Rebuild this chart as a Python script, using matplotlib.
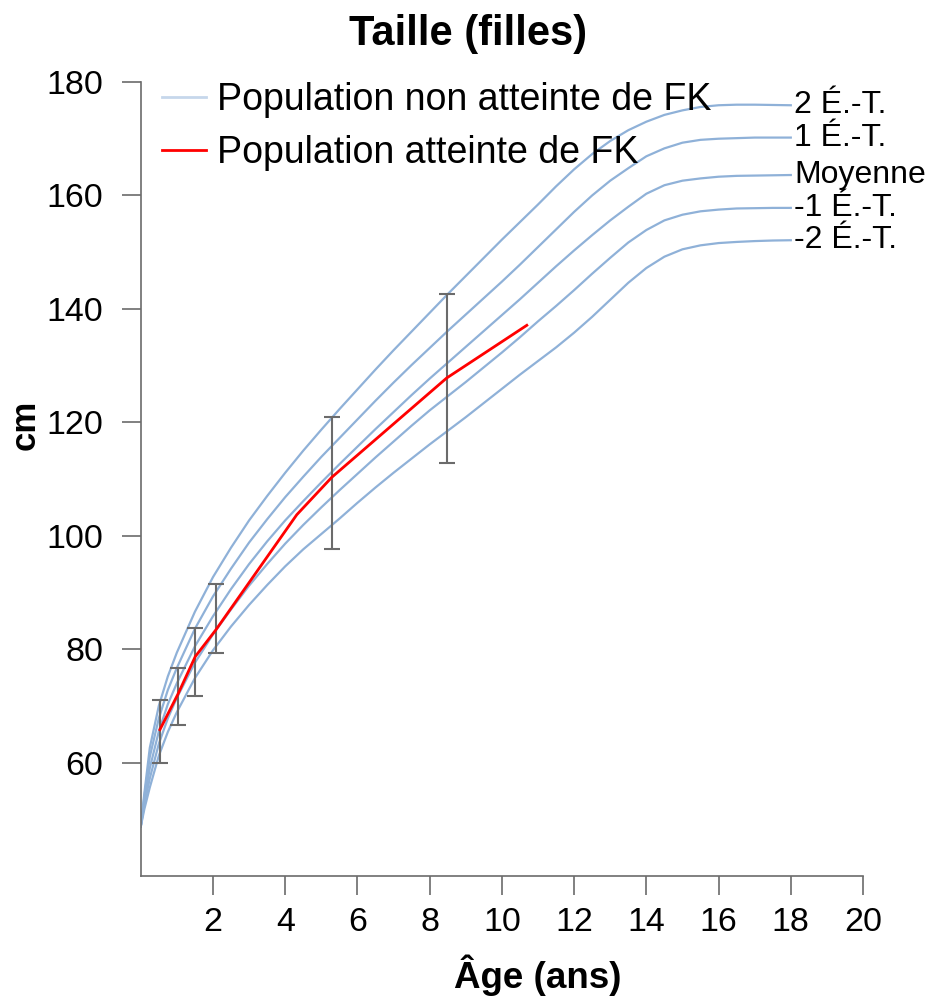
import matplotlib
matplotlib.use("Agg")
import matplotlib.pyplot as plt
from matplotlib.lines import Line2D

plt.rcParams["font.family"] = ["Liberation Sans", "DejaVu Sans"]

# reference curves (cm) by age (years)
AGES = [0, 0.1, 0.25, 0.5, 0.75, 1, 1.5, 2, 2.5, 3, 3.5, 4, 4.5, 5, 5.5, 6,
        6.5, 7, 7.5, 8, 8.5, 9, 9.5, 10, 10.5, 11, 11.5, 12, 12.5, 13, 13.5,
        14, 14.5, 15, 15.5, 16, 16.5, 17, 17.5, 18]
SD_PLUS2 = [48.7, 54.6, 62.6, 70.0, 75.2, 79.4, 86.6, 92.7, 97.9, 102.7, 107.0,
            111.1, 115.0, 118.7, 122.3, 125.8, 129.3, 132.7, 136.0, 139.3, 142.6,
            145.8, 149.0, 152.2, 155.3, 158.4, 161.6, 164.6, 167.3, 169.6, 171.5,
            173.0, 174.2, 175.0, 175.6, 175.9, 176.0, 176.0, 175.95, 175.9]
SD_PLUS1 = [48.7, 54.0, 61.0, 67.8, 72.8, 76.7, 83.6, 89.3, 94.2, 98.8, 102.9,
            106.8, 110.4, 113.9, 117.2, 120.5, 123.8, 127.0, 130.1, 133.1, 136.1,
            139.0, 141.9, 144.8, 147.8, 150.9, 154.0, 157.1, 160.0, 162.6, 164.8,
            166.9, 168.3, 169.3, 169.8, 170.0, 170.1, 170.2, 170.2, 170.2]
MEAN = [48.7, 53.3, 59.0, 65.5, 70.3, 74.0, 80.5, 85.8, 90.6, 95.0, 99.0,
        102.7, 106.1, 109.4, 112.6, 115.7, 118.8, 121.8, 124.8, 127.7, 130.5,
        133.3, 136.1, 138.9, 141.7, 144.6, 147.5, 150.3, 153.0, 155.6, 158.0,
        160.3, 161.8, 162.6, 163.0, 163.3, 163.45, 163.5, 163.55, 163.6]
SD_MINUS1 = [48.7, 52.6, 57.2, 63.3, 67.8, 71.4, 77.6, 82.6, 87.0, 91.2, 95.0,
             98.6, 101.9, 105.0, 108.0, 110.9, 113.8, 116.6, 119.4, 122.1, 124.6,
             127.1, 129.7, 132.3, 135.0, 137.8, 140.5, 143.3, 146.2, 149.0, 151.7,
             153.9, 155.6, 156.6, 157.2, 157.5, 157.7, 157.75, 157.8, 157.8]
SD_MINUS2 = [48.7, 51.8, 55.6, 61.2, 65.4, 68.9, 74.9, 79.8, 84.0, 87.8, 91.3,
             94.6, 97.6, 100.3, 103.0, 105.8, 108.5, 111.1, 113.6, 116.1, 118.5,
             120.9, 123.4, 125.9, 128.4, 130.8, 133.2, 135.8, 138.6, 141.6, 144.6,
             147.2, 149.2, 150.5, 151.2, 151.6, 151.8, 151.95, 152.05, 152.1]
CURVE_LABELS = ["2 É.-T.", "1 É.-T.", "Moyenne", "-1 É.-T.", "-2 É.-T."]

# CF population
FK_AGES = [0.53, 1.04, 1.51, 2.08, 4.32, 5.29, 8.47, 10.69]
FK_HEIGHT = [65.8, 72.2, 78.7, 83.4, 103.7, 110.3, 127.8, 137.1]
BAR_AGES = [0.53, 1.04, 1.51, 2.08, 5.29, 8.47]
BAR_MID = [65.8, 72.2, 78.7, 83.4, 110.3, 127.8]
BAR_LOW = [59.9, 66.6, 71.8, 79.3, 97.6, 112.9]
BAR_HIGH = [71.0, 76.7, 83.7, 91.5, 120.9, 142.6]

BLUE = "#8fb1d8"
GREY = "#6b6b6b"

fig = plt.figure(figsize=(9.26, 10), dpi=100)
ax = fig.add_axes([0.152, 0.124, 0.780, 0.794])

curves = [SD_PLUS2, SD_PLUS1, MEAN, SD_MINUS1, SD_MINUS2]
for values, label in zip(curves, CURVE_LABELS):
    ax.plot(AGES, values, color=BLUE, lw=1.6, solid_joinstyle="round")
    ax.text(AGES[-1] + 0.1, values[-1], label, fontsize=23, va="center",
            ha="left", clip_on=False)

yerr = [[m - lo for m, lo in zip(BAR_MID, BAR_LOW)],
        [hi - m for m, hi in zip(BAR_MID, BAR_HIGH)]]
ax.errorbar(BAR_AGES, BAR_MID, yerr=yerr, fmt="none", ecolor=GREY,
            elinewidth=1.5, capsize=6, capthick=1.5)
ax.plot(FK_AGES, FK_HEIGHT, color="#ff0000", lw=2)

ax.set_xlim(0, 20)
ax.set_ylim(40, 180)
ax.set_xticks(range(2, 21, 2))
ax.set_yticks(range(60, 181, 20))
for side in ("top", "right"):
    ax.spines[side].set_visible(False)
for side in ("left", "bottom"):
    ax.spines[side].set_color(GREY)
    ax.spines[side].set_linewidth(1.2)
ax.tick_params(axis="both", colors=GREY, length=14, width=1.2, labelsize=24.5,
               labelcolor="black")
ax.tick_params(axis="y", pad=13)
ax.tick_params(axis="x", pad=8)

handles = [Line2D([], [], color="#c6d7eb", lw=2),
           Line2D([], [], color="#ff0000", lw=2)]
ax.legend(handles, ["Population non atteinte de FK", "Population atteinte de FK"],
          loc="upper left", bbox_to_anchor=(0.03, 1.0), frameon=False,
          fontsize=27, handlelength=1.15, handletextpad=0.3, labelspacing=0.45,
          borderaxespad=0, borderpad=0)

fig.text(0.505, 0.966, "Taille (filles)", fontsize=30, fontweight="bold",
         ha="center", va="center")
fig.text(0.581, 0.025, "Âge (ans)", fontsize=26.5, fontweight="bold",
         ha="center", va="center")
fig.text(0.027, 0.575, "cm", fontsize=25, fontweight="bold", rotation=90,
         ha="center", va="center")

fig.savefig("out.png", dpi=100)
